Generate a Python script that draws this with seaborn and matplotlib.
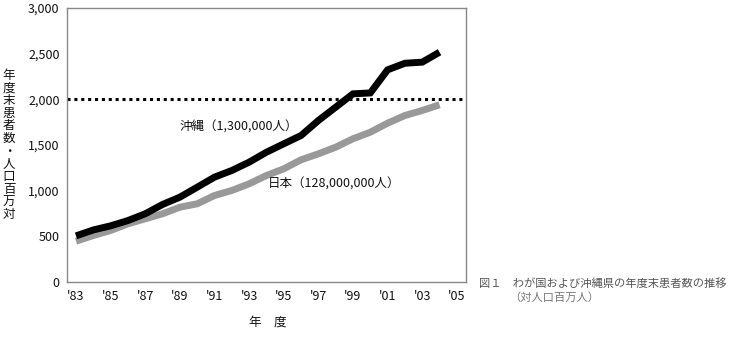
import matplotlib
matplotlib.use("Agg")
import matplotlib.pyplot as plt
import seaborn as sns
import pandas as pd

years = list(range(1983, 2005))
okinawa = [505, 570, 615, 673, 747, 849, 929, 1038, 1148, 1221, 1312, 1421, 1513, 1604,
           1768, 1914, 2060, 2070, 2323, 2395, 2407, 2516]
japan = [447, 509, 564, 637, 692, 747, 819, 856, 947, 1002, 1075, 1166, 1239, 1338,
         1403, 1476, 1568, 1640, 1739, 1823, 1878, 1940]
xtick_years = list(range(1983, 2006, 2))
xtick_labels = ["'83", "'85", "'87", "'89", "'91", "'93", "'95", "'97", "'99", "'01", "'03", "'05"]
yticks = [0, 500, 1000, 1500, 2000, 2500, 3000]
ytick_labels = ["0", "500", "1,000", "1,500", "2,000", "2,500", "3,000"]
ref_value = 2000
label_okinawa = "沖縄（1,300,000人）"
label_japan = "日本（128,000,000人）"
ylabel = "年度末患者数・人口百万対"
xlabel = "年　度"
caption1 = "図１　わが国および沖縄県の年度末患者数の推移"
caption2 = "（対人口百万人）"

sns.set_theme(style="white")
plt.rcParams['font.family'] = ['Noto Sans CJK JP', 'DejaVu Sans']

df = pd.DataFrame({"year": years * 2,
                   "value": japan + okinawa,
                   "region": ["日本"] * len(years) + ["沖縄"] * len(years)})

fig = plt.figure(figsize=(7.33, 3.45), dpi=100)
ax = fig.add_axes([66.5 / 733, 1 - 282 / 345, (465.5 - 66.5) / 733, (282 - 8) / 345])

sns.lineplot(data=df, x="year", y="value", hue="region",
             palette={"日本": "#999999", "沖縄": "#000000"},
             linewidth=5, ax=ax, legend=False, sort=False)
for ln in ax.get_lines():
    ln.set_solid_capstyle("butt")
    ln.set_solid_joinstyle("miter")

ax.axhline(ref_value, color="black", linestyle=(0, (1, 1.25)), linewidth=2.2, zorder=1)

ax.set_xlim(1982.45, 2005.5)
ax.set_ylim(0, 3000)
ax.set_xticks(years + [2005], minor=True)
ax.set_xticks(xtick_years)
ax.set_xticklabels(xtick_labels)
ax.set_yticks(yticks)
ax.set_yticklabels(ytick_labels)
ax.tick_params(axis="both", which="both", direction="in", length=3, width=0.8,
               color="#666666", labelsize=9, labelcolor="#111111")
ax.tick_params(axis="x", which="major", pad=6)
ax.tick_params(axis="y", pad=5)
for s in ax.spines.values():
    s.set_color("#888888")
    s.set_linewidth(1)
ax.set_xlabel("")
ax.set_ylabel("")

fig.text(268 / 733, 1 - 322 / 345, xlabel, ha="center", va="center", fontsize=9, color="#111111")
fig.text(9 / 733, 1 - 145 / 345, "\n".join(ylabel), ha="center", va="center",
         fontsize=9, color="#111111", linespacing=0.97)

ax.text(1988.95, 1700, label_okinawa, fontsize=9, color="#111111", va="center", ha="left")
ax.text(1994.1, 1075, label_japan, fontsize=9, color="#111111", va="center", ha="left")

fig.text(479 / 733, 1 - 284 / 345, caption1, fontsize=8.1, color="#555555", va="center", ha="left")
fig.text(509 / 733, 1 - 298 / 345, caption2, fontsize=8.1, color="#777777", va="center", ha="left")

fig.savefig("out.png", dpi=100)
